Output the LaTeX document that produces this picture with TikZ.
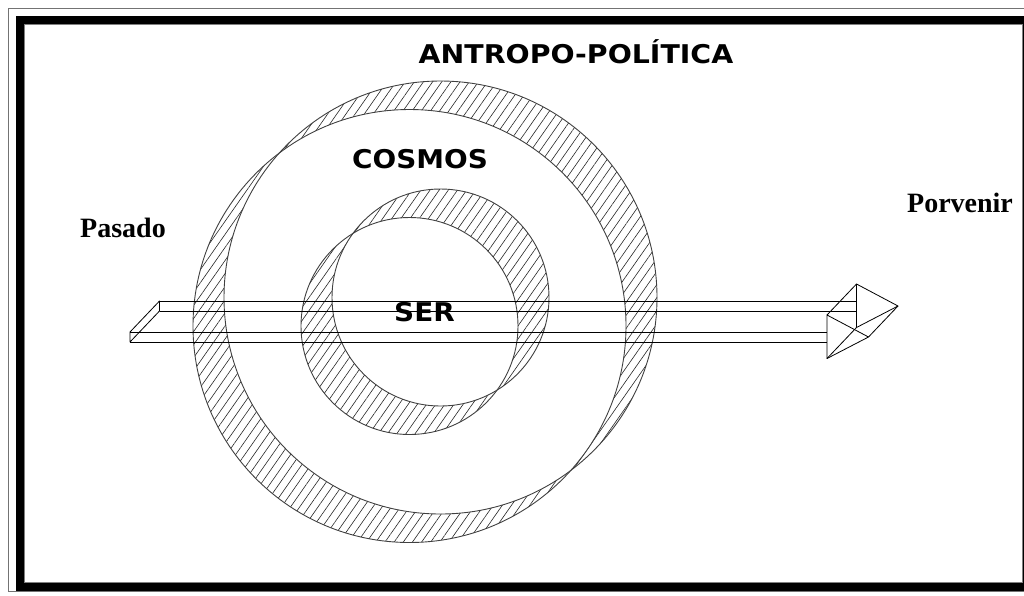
\documentclass[tikz,border=0pt]{standalone}
\usepackage{fontspec}
\setmainfont{Liberation Serif}
\newfontfamily\labelsans{DejaVu Sans}
\usetikzlibrary{patterns.meta}
\tikzset{
  ringline/.style={draw=black!75, line width=0.9pt},
  hatch/.style={pattern={Lines[angle=55,distance=7.5pt,line width=0.6pt]}, pattern color=black!85, even odd rule},
  arrowline/.style={draw=black, line width=0.8pt, line join=round},
  sanslabel/.style={inner sep=0pt, anchor=base, font=\labelsans\bfseries\fontsize{25.8}{30}\selectfont},
  seriflabel/.style={inner sep=0pt, anchor=base, font=\bfseries\fontsize{28}{32}\selectfont}
}
\begin{document}
\begin{tikzpicture}[x=1pt,y=-1pt]
\useasboundingbox (0,0) rectangle (1024,595);
\clip (0,0) rectangle (1024,595);
% frame
\draw[black!55, line width=1pt] (8.5,8.5) rectangle (1040,591.5);
\draw[black, line width=8pt] (20,20) rectangle (1027,587.2);
\draw[black!50, line width=0.8pt] (24.5,24.5) rectangle (1022.3,582.8);
% ring centres
\coordinate (cA) at (409.5,326);
\coordinate (cB) at (440.5,297.5);
% outer ring
\fill[hatch] (cA) circle (216.5pt) (cB) circle (216.5pt);
\draw[ringline] (cA) circle (216.5pt);
\draw[ringline] (cB) circle (216.5pt);
% inner ring
\fill[hatch] (cA) circle (108.5pt) (cB) circle (108.5pt);
\draw[ringline] (cA) circle (108.5pt);
\draw[ringline] (cB) circle (108.5pt);
% 3D arrow: front face and back face (offset 29.5,-31)
\coordinate (tft) at (130,332);   \coordinate (tfb) at (130,342);
\coordinate (tbt) at (159.5,301); \coordinate (tbb) at (159.5,311);
\coordinate (hft) at (827,332);   \coordinate (hfb) at (827,342);
\coordinate (hbt) at (856.5,301); \coordinate (hbb) at (856.5,311);
\coordinate (fbu) at (827,315);   \coordinate (fbd) at (827,358.5);
\coordinate (ftip) at (868.5,337);
\coordinate (bbu) at (856.5,284); \coordinate (bbd) at (856.5,327.5);
\coordinate (btip) at (898,306);
% shaft edges
\draw[arrowline] (tft) -- (hft);
\draw[arrowline] (tfb) -- (hfb);
\draw[arrowline] (tbt) -- (hbt);
\draw[arrowline] (tbb) -- (hbb);
% tail cap
\draw[arrowline] (tft) -- (tfb) -- (tbb) -- (tbt) -- cycle;
% head prism
\draw[arrowline] (fbu) -- (ftip) -- (fbd) -- cycle;
\draw[arrowline] (bbu) -- (btip) -- (bbd) -- cycle;
\draw[arrowline] (fbu) -- (bbu);
\draw[arrowline] (ftip) -- (btip);
\draw[arrowline] (fbd) -- (bbd);
% labels
\node[sanslabel] (antro) at (576,63) {\scalebox{1.1}[1]{ANTROPO-POLÍTICA}};
\node[sanslabel] (cosmos) at (420,168) {\scalebox{1.08}[1]{COSMOS}};
\node[sanslabel] (ser) at (424.5,321.5) {\scalebox{1.08}[1]{SER}};
\node[seriflabel] (pasado) at (123,237) {Pasado};
\node[seriflabel] (porvenir) at (960,212) {Porvenir};
\end{tikzpicture}
\end{document}
